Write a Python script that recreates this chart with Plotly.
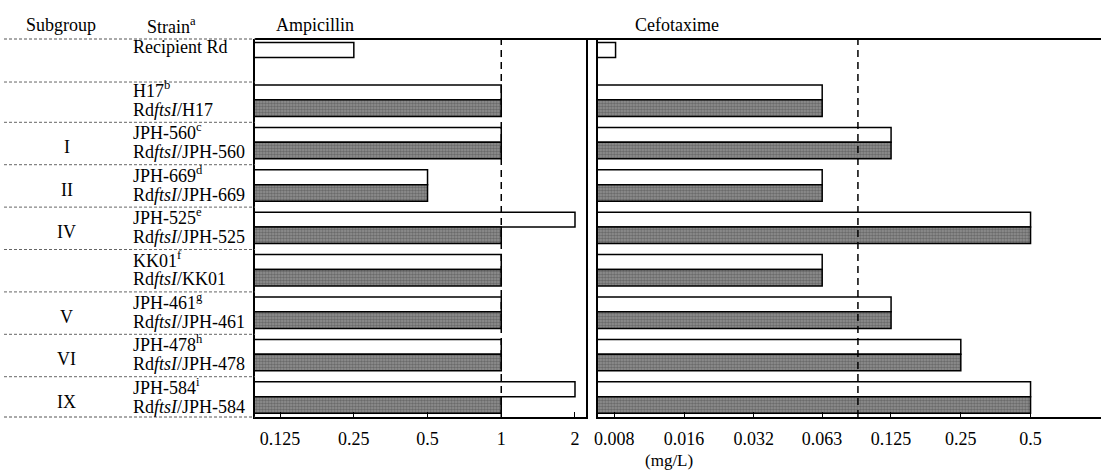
import plotly.graph_objects as go

# ---------------- data ----------------
subgroups = ["", "", "I", "II", "IV", "", "V", "VI", "IX"]
parent_strains = ["Recipient Rd", "H17<sup>b</sup>", "JPH-560<sup>c</sup>", "JPH-669<sup>d</sup>",
                  "JPH-525<sup>e</sup>", "KK01<sup>f</sup>", "JPH-461<sup>g</sup>",
                  "JPH-478<sup>h</sup>", "JPH-584<sup>i</sup>"]
transformant_strains = [None, "Rd<i>ftsI</i>/H17", "Rd<i>ftsI</i>/JPH-560", "Rd<i>ftsI</i>/JPH-669",
                        "Rd<i>ftsI</i>/JPH-525", "Rd<i>ftsI</i>/KK01", "Rd<i>ftsI</i>/JPH-461",
                        "Rd<i>ftsI</i>/JPH-478", "Rd<i>ftsI</i>/JPH-584"]
amp_parent = [0.25, 1, 1, 0.5, 2, 1, 1, 1, 2]
amp_transf = [None, 1, 1, 0.5, 1, 1, 1, 1, 1]
cef_parent = [0.008, 0.063, 0.125, 0.063, 0.5, 0.063, 0.125, 0.25, 0.5]
cef_transf = [None, 0.063, 0.125, 0.063, 0.5, 0.063, 0.125, 0.25, 0.5]
amp_ticks = [0.125, 0.25, 0.5, 1, 2]
amp_ticktext = ["0.125", "0.25", "0.5", "1", "2"]
cef_ticks = [0.008, 0.016, 0.032, 0.063, 0.125, 0.25, 0.5]
cef_ticktext = ["0.008", "0.016", "0.032", "0.063", "0.125", "0.25", "0.5"]
amp_cutoff = 1
cef_cutoff = 0.09

# ---------------- layout helpers ----------------
W, H = 1101, 472
TOP, BOT = 39, 417          # plot area in px
FONT = "Liberation Serif"
FS = 18


def px_x(px):
    return px / W


def px_y(px):
    return (BOT - px) / (BOT - TOP)


group_top = [i - 1 for i in range(len(parent_strains))]
WHITE_W, GRAY_W = 0.35, 0.39
white_y = [g + WHITE_W / 2 for g in group_top]
gray_y = [g + WHITE_W + GRAY_W / 2 for g in group_top]

white_style = dict(color="white", line=dict(color="black", width=1.5))
gray_style = dict(color="#858585", line=dict(color="black", width=1.5),
                  pattern=dict(shape=".", fgcolor="#404040", bgcolor="#929292", size=3, solidity=0.5))

fig = go.Figure()
BASE = 1e-4
for xa, ya, pv, tv in [("x", "y", amp_parent, amp_transf), ("x2", "y2", cef_parent, cef_transf)]:
    fig.add_trace(go.Bar(x=pv, y=white_y, base=BASE, orientation="h", width=WHITE_W,
                         marker=white_style, xaxis=xa, yaxis=ya, hoverinfo="skip"))
    ty = [y for y, v in zip(gray_y, tv) if v is not None]
    tvv = [v for v in tv if v is not None]
    fig.add_trace(go.Bar(x=tvv, y=ty, base=BASE, orientation="h", width=GRAY_W,
                         marker=gray_style, xaxis=xa, yaxis=ya, hoverinfo="skip"))

amp_range = [-1.005, 0.3455]
cef_range = [-2.168, 0.003]

axis_common = dict(type="log", showline=True, linecolor="black", linewidth=1.5,
                   ticks="inside", ticklen=5, tickcolor="black", tickwidth=1,
                   showgrid=False, zeroline=False, mirror=False,
                   tickfont=dict(family=FONT, size=FS, color="black"),
                   ticklabelstandoff=5)
yrange = [(BOT - 85) / 42.4, (TOP - 85) / 42.4]
yaxis_common = dict(range=yrange, showticklabels=False, ticks="", showgrid=False,
                    zeroline=False, showline=True, linecolor="black", linewidth=1.5,
                    domain=[0, 1])

fig.update_layout(
    width=W, height=H,
    margin=dict(l=0, r=0, t=TOP, b=H - BOT),
    paper_bgcolor="white", plot_bgcolor="white",
    showlegend=False, barmode="overlay",
    font=dict(family=FONT, size=FS, color="black"),
    xaxis=dict(domain=[px_x(252), px_x(584)], range=amp_range, tickvals=amp_ticks,
               ticktext=amp_ticktext, anchor="y", **axis_common),
    xaxis2=dict(domain=[px_x(596), 1], range=cef_range, tickvals=cef_ticks,
                ticktext=cef_ticktext, anchor="y2", **axis_common),
    yaxis=dict(anchor="x", mirror=True, **yaxis_common),
    yaxis2=dict(anchor="x2", matches="y", mirror=False, **yaxis_common),
)

shapes = []
shapes.append(dict(type="line", xref="paper", yref="paper", x0=px_x(252), x1=1, y0=1, y1=1,
                   line=dict(color="black", width=2)))
for yy in (1, 0):
    shapes.append(dict(type="line", xref="paper", yref="paper", x0=0, x1=px_x(252), y0=yy, y1=yy,
                       line=dict(color="#555", width=1, dash="3px,2px")))
sep_y = [-0.07] + [g + 0.88 for g in group_top[1:-1]]
for sy in sep_y:
    shapes.append(dict(type="line", xref="paper", yref="y", x0=0, x1=px_x(252), y0=sy, y1=sy,
                       line=dict(color="#666", width=1, dash="3px,2px")))
shapes.append(dict(type="line", xref="x", yref="paper", x0=amp_cutoff, x1=amp_cutoff, y0=0, y1=1,
                   line=dict(color="black", width=1.5, dash="7px,5px")))
shapes.append(dict(type="line", xref="x2", yref="paper", x0=cef_cutoff, x1=cef_cutoff, y0=0, y1=1,
                   line=dict(color="black", width=1.5, dash="7px,5px")))
fig.update_layout(shapes=shapes)

ann = []
for text, cx in [("Subgroup", 57), ("Strain<sup>a</sup>", 168), ("Ampicillin", 312), ("Cefotaxime", 675)]:
    ann.append(dict(text=text, x=px_x(cx), y=px_y(25), xref="paper", yref="paper",
                    xanchor="center", yanchor="middle", showarrow=False,
                    font=dict(family=FONT, size=FS, color="black")))
ann.append(dict(text="(mg/L)", x=px_x(667), y=px_y(460), xref="paper", yref="paper",
                xanchor="center", yanchor="middle", showarrow=False,
                font=dict(family=FONT, size=FS - 1, color="black")))
for s, y in zip(parent_strains, white_y):
    ann.append(dict(text=s, x=px_x(127), y=y - 0.07, xref="paper", yref="y", xanchor="left",
                    yanchor="middle", showarrow=False, font=dict(family=FONT, size=FS, color="black")))
for s, y in zip(transformant_strains, gray_y):
    if s is None:
        continue
    ann.append(dict(text=s, x=px_x(127), y=y + 0.04, xref="paper", yref="y", xanchor="left",
                    yanchor="middle", showarrow=False, font=dict(family=FONT, size=FS, color="black")))
for sg, g in zip(subgroups, group_top):
    if sg:
        ann.append(dict(text=sg, x=px_x(63), y=g + 0.47, xref="paper", yref="y", xanchor="center",
                        yanchor="middle", showarrow=False, font=dict(family=FONT, size=FS, color="black")))
fig.update_layout(annotations=ann)

fig.write_html("out.html", config={"displayModeBar": False},
               post_script="document.body.style.margin='0';document.body.style.padding='0';")
